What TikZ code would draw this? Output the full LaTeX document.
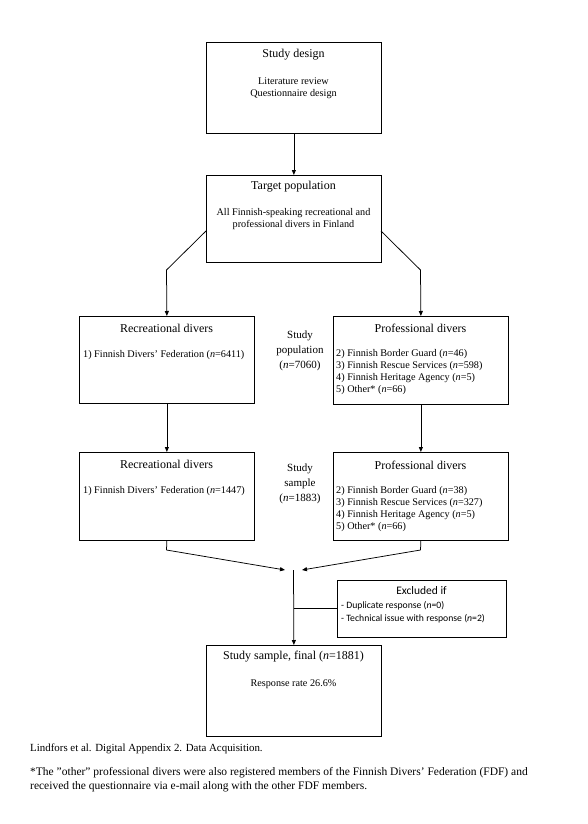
\documentclass[tikz,border=0pt]{standalone}
\usepackage{fontspec}
\setmainfont{Liberation Serif}
\newfontfamily\carl{Carlito}
\usetikzlibrary{arrows.meta,calc}
\begin{document}
\begin{tikzpicture}[x=1pt,y=-1pt,
  box/.style={draw, line width=0.75pt, anchor=north west, inner sep=0pt, minimum width=175pt},
  ttl/.style={font=\fontsize{12}{13}\selectfont, inner sep=0pt},
  itm/.style={font=\fontsize{10.2}{12.2}\selectfont, inner sep=0pt, align=left},
  ctr/.style={font=\fontsize{10.2}{12.5}\selectfont, inner sep=0pt, align=center},
  mid/.style={font=\fontsize{11}{15}\selectfont, inner sep=0pt, align=center},
  ln/.style={line width=0.75pt},
  arr/.style={line width=0.75pt, -{Triangle[length=5pt,width=4pt]}}
]
\useasboundingbox (0,0) rectangle (588,824);
\fill[white] (0,0) rectangle (588,824);

% boxes
\node[box, minimum height=91pt] (design) at (206,42) {};
\node[box, minimum height=87pt] (target) at (206,175) {};
\node[box, minimum height=87pt] (rec1) at (79,316) {};
\node[box, minimum height=88pt] (prof1) at (333,316) {};
\node[box, minimum height=88pt] (rec2) at (79,452) {};
\node[box, minimum height=88pt] (prof2) at (333,452) {};
\node[box, minimum width=169pt, minimum height=57pt] (excl) at (337,580) {};
\node[box, minimum height=91pt] (final) at (206,645) {};

% texts
\node[ttl] (t1) at (293.5,55) {Study design};
\node[ctr] (t1b) at (293.5,88) {Literature review\\Questionnaire design};
\node[ttl] (t2) at (293.5,187) {Target population};
\node[ctr] (t2b) at (293.5,219) {All Finnish-speaking recreational and\\professional divers in Finland};

\node[ttl] (t3) at (166.5,328) {Recreational divers};
\node[itm, anchor=west] (t3b) at (83,355) {1) Finnish Divers' Federation (\textit{n}=6411)};
\node[mid] (pop) at (300,351) {Study\\population\\(\textit{n}=7060)};
\node[ttl] (t4) at (420.5,328) {Professional divers};
\node[itm, anchor=north west] (t4b) at (336,349) {2) Finnish Border Guard (\textit{n}=46)\\3) Finnish Rescue Services (\textit{n}=598)\\4) Finnish Heritage Agency (\textit{n}=5)\\5) Other* (\textit{n}=66)};

\node[ttl] (t5) at (166.5,464) {Recreational divers};
\node[itm, anchor=west] (t5b) at (83,491) {1) Finnish Divers' Federation (\textit{n}=1447)};
\node[mid] (samp) at (300,484) {Study\\sample\\(\textit{n}=1883)};
\node[ttl] (t6) at (420.5,465) {Professional divers};
\node[itm, anchor=north west] (t6b) at (336,486) {2) Finnish Border Guard (\textit{n}=38)\\3) Finnish Rescue Services (\textit{n}=327)\\4) Finnish Heritage Agency (\textit{n}=5)\\5) Other* (\textit{n}=66)};

\node[font=\carl\fontsize{11.5}{13}\selectfont, inner sep=0pt] (t7) at (421.5,591) {Excluded if};
\node[font=\carl\fontsize{9.7}{13}\selectfont, inner sep=0pt, align=left, anchor=north west] (t7b) at (341,601) {- Duplicate response (\textit{n}=0)\\- Technical issue with response (\textit{n}=2)};

\node[ttl] (t8) at (293.5,657) {Study sample, final (\textit{n}=1881)};
\node[ctr] (t8b) at (293.5,684) {Response rate 26.6\%};

\node[font=\fontsize{10.9}{13}\selectfont, inner sep=0pt, anchor=west] (cap) at (30,749) {Lindfors et al. Digital Appendix 2. Data Acquisition.};
\node[font=\fontsize{11.5}{14}\selectfont, inner sep=0pt, anchor=north west, align=left] (foot) at (30,767) {*The "other" professional divers were also registered members of the Finnish Divers' Federation (FDF) and\\received the questionnaire via e-mail along with the other FDF members.};

% connectors
\draw[arr] (design.south) -- (target.north);
\coordinate (tl) at (206,231);
\coordinate (tr) at (381,231);
\coordinate (kl) at (166.5,270);
\coordinate (kr) at (420.5,270);
\draw[arr] (tl) -- (kl) -- (rec1.north);
\draw[arr] (tr) -- (kr) -- (prof1.north);
\draw[arr] (rec1.south) -- (rec2.north);
\draw[arr] (prof1.south) -- (prof2.north);
\coordinate (bl) at (166.5,550);
\coordinate (br) at (420.5,550);
\coordinate (ml) at (285,570);
\coordinate (mr) at (302,570);
\coordinate (stem) at (293.5,570);
\coordinate (branch) at (293.5,608);
\draw[ln] (rec2.south) -- (bl);
\draw[arr] (bl) -- (ml);
\draw[ln] (prof2.south) -- (br);
\draw[arr] (br) -- (mr);
\draw[arr] (stem) -- (final.north);
\draw[ln] (branch) -- (branch -| excl.west);
\end{tikzpicture}
\end{document}
